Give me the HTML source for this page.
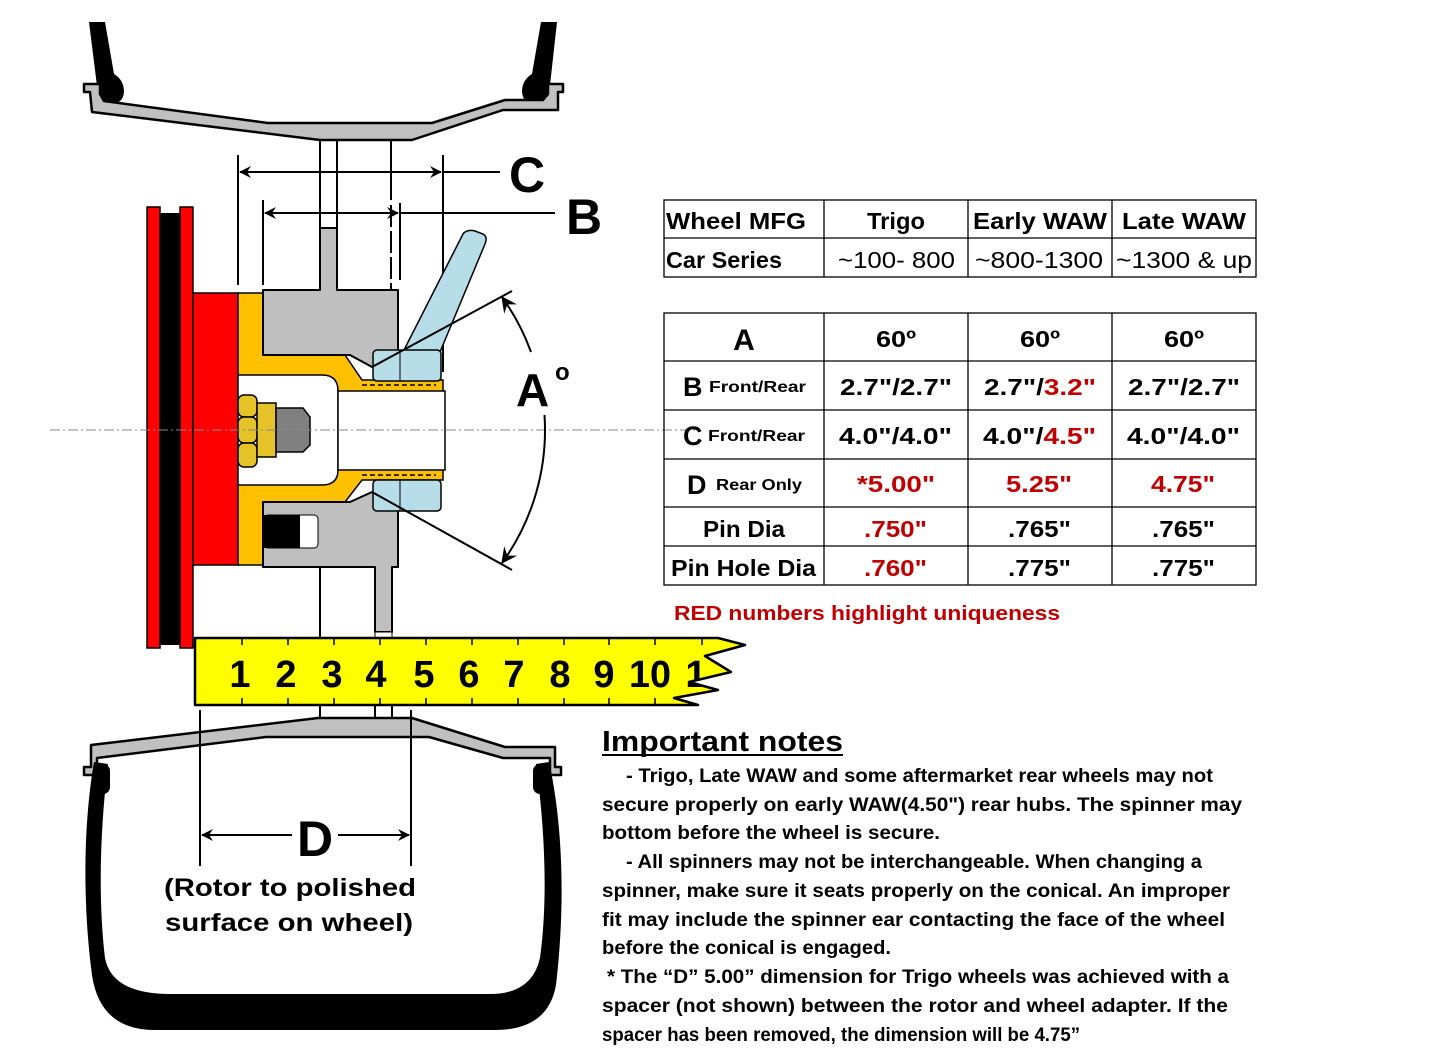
<!DOCTYPE html>
<html><head><meta charset="utf-8"><style>
html,body{margin:0;padding:0;background:#fff;width:1440px;height:1056px;overflow:hidden}
svg{display:block}
.t{font-family:"Liberation Sans",Arial,sans-serif;font-weight:bold}
</style></head><body>
<svg width="1440" height="1056" viewBox="0 0 1440 1056" xmlns="http://www.w3.org/2000/svg">
<defs>
<marker id="ar" viewBox="0 0 12 12" refX="11" refY="6" markerWidth="12" markerHeight="12" markerUnits="userSpaceOnUse" orient="auto-start-reverse">
<path d="M0,0 L12,6 L0,12 L4,6 z" fill="#000"/></marker>
<marker id="ar2" viewBox="0 0 14 14" refX="13" refY="7" markerWidth="16" markerHeight="16" markerUnits="userSpaceOnUse" orient="auto-start-reverse">
<path d="M0,0 L14,7 L0,14 L5,7 z" fill="#000"/></marker>
<clipPath id="rc"><polygon points="195,638 718,638 745,645 705,656 731,672 689,682 718,690 674,698 698,705 195,705"/></clipPath>
</defs>

<!-- top tire -->
<path d="M89,22 L105,22 L114,74 Q124,80 124,92 Q123,104 110,104 Q100,104 98,94 Z" fill="#000"/>
<path d="M541,22 L557,22 L549,94 Q546,104 536,104 Q523,104 522,92 Q522,80 532,74 Z" fill="#000"/>
<!-- top rim -->
<polygon points="84,84 100,84 100,94 104,101 268,123 432,123 505,100 543,100 548,94 548,84 563,84 563,92 558,92 558,110 503,110 412,140 320,140 92,112 90,92 84,92" fill="#c0c0c0" stroke="#000" stroke-width="2.5" stroke-linejoin="round"/>

<g stroke="#000" stroke-width="2">
<line x1="320" y1="140" x2="320" y2="228"/><line x1="337" y1="140" x2="337" y2="228"/>
<line x1="391" y1="140" x2="391" y2="200"/>
<line x1="391" y1="205" x2="391" y2="292" stroke-dasharray="22,4"/>
<line x1="238" y1="155" x2="238" y2="285"/><line x1="443" y1="155" x2="443" y2="372"/>
<line x1="263" y1="200" x2="263" y2="285"/><line x1="400" y1="203" x2="400" y2="280"/>
<line x1="240" y1="172" x2="441" y2="172" marker-start="url(#ar)" marker-end="url(#ar)"/>
<line x1="443" y1="172" x2="500" y2="172"/>
<line x1="265" y1="213" x2="398" y2="213" marker-start="url(#ar)" marker-end="url(#ar)"/>
<line x1="400" y1="213" x2="555" y2="213"/>
</g>
<text class="t" x="509" y="192" font-size="50">C</text>
<text class="t" x="566" y="234" font-size="50">B</text>

<rect x="147" y="207" width="13" height="441" fill="#f00" stroke="#000" stroke-width="1.5"/>
<rect x="160" y="213" width="20" height="432" fill="#000"/>
<rect x="180" y="207" width="13" height="441" fill="#f00" stroke="#000" stroke-width="1.5"/>
<rect x="193" y="293" width="45" height="272" fill="#f00" stroke="#000" stroke-width="1.5"/>

<polygon points="238,293 263,293 263,355 345,355 362,380 443,380 443,480 362,480 345,502 263,502 263,565 238,565" fill="#ffc000" stroke="#000" stroke-width="1.5"/>
<path d="M238,375 L322,375 Q338,375 338,391 L338,470 Q338,485 322,485 L238,485 z" fill="#fff" stroke="#000" stroke-width="1.5"/>
<rect x="338" y="391" width="107" height="79" fill="#fff" stroke="#000" stroke-width="1.5"/>
<g stroke="#000" stroke-width="1.5" stroke-dasharray="5,3"><line x1="362" y1="385" x2="436" y2="385"/><line x1="362" y1="475" x2="436" y2="475"/></g>

<polygon points="263,290 320,290 320,228 337,228 337,290 398,290 398,355 372,367 350,355 263,355" fill="#bfbfbf" stroke="#000" stroke-width="2" stroke-linejoin="round"/>
<polygon points="263,502 350,502 372,492 398,508 398,567 392,567 392,632 375,632 375,567 263,567" fill="#bfbfbf" stroke="#000" stroke-width="2" stroke-linejoin="round"/>
<rect x="375" y="632" width="17" height="6" fill="#fff" stroke="#000" stroke-width="1"/>
<rect x="264" y="515" width="54" height="33" rx="4" fill="#fff" stroke="#000" stroke-width="1"/>
<rect x="264" y="515" width="36" height="33" fill="#000"/>

<path d="M403,352 L463,234 Q467,229 475,231 L483,234 Q488,237 485,244 L440,352 z" fill="#b7dde8" stroke="#000" stroke-width="1.5"/>
<rect x="373" y="350" width="68" height="31" rx="4" fill="#b7dde8" stroke="#000" stroke-width="1.5"/>
<rect x="373" y="480" width="68" height="31" rx="4" fill="#b7dde8" stroke="#000" stroke-width="1.5"/>
<line x1="400" y1="350" x2="400" y2="381" stroke="#000" stroke-width="1"/>
<line x1="400" y1="480" x2="400" y2="511" stroke="#000" stroke-width="1"/>

<g stroke="#000" stroke-width="1.5">
<rect x="238" y="395" width="19" height="22" rx="6" fill="#e6c229"/>
<rect x="238" y="417" width="19" height="26" rx="6" fill="#e6c229"/>
<rect x="238" y="443" width="19" height="24" rx="6" fill="#e6c229"/>
<rect x="257" y="403" width="19" height="54" fill="#e6c229"/>
<polygon points="276,408 303,408 310,417 310,445 303,452 276,452" fill="#808080"/>
</g>

<line x1="50" y1="430" x2="700" y2="430" stroke="#888" stroke-width="1" stroke-dasharray="10,3,2,3"/>

<g stroke="#000" stroke-width="2" fill="none">
<line x1="372" y1="367" x2="512" y2="291"/>
<line x1="372" y1="492" x2="512" y2="570"/>
<path d="M502,297 A227,227 0 0 1 531,352" marker-start="url(#ar2)"/>
<path d="M544.5,415 A227,227 0 0 1 502,563" marker-end="url(#ar2)"/>
</g>
<text class="t" x="516" y="406" font-size="46">A</text>
<text class="t" x="555" y="380" font-size="24">o</text>

<g stroke="#000" stroke-width="2">
<line x1="320" y1="567" x2="320" y2="638"/>
<line x1="320" y1="705" x2="320" y2="718"/><line x1="375" y1="705" x2="375" y2="718"/><line x1="392" y1="705" x2="392" y2="718"/>
</g>

<polygon points="195,638 718,638 745,645 705,656 731,672 689,682 718,690 674,698 698,705 195,705" fill="#ffff00" stroke="#000" stroke-width="2.5" stroke-linejoin="round"/>
<g stroke="#000" stroke-width="1.5">
<path d="M242,638v7M288,638v7M334,638v7M380,638v7M426,638v7M472,638v7M518,638v7M564,638v7M609,638v7M655,638v7M702,638v7"/>
<path d="M242,705v-7M288,705v-7M334,705v-7M380,705v-7M426,705v-7M472,705v-7M518,705v-7M564,705v-7M609,705v-7M655,705v-7"/>
</g>
<g class="t" font-size="38" text-anchor="middle">
<text x="240" y="687">1</text><text x="286" y="687">2</text><text x="332" y="687">3</text><text x="376" y="687">4</text><text x="424" y="687">5</text><text x="469" y="687">6</text><text x="514" y="687">7</text><text x="560" y="687">8</text><text x="604" y="687">9</text><text x="650" y="687" textLength="42" lengthAdjust="spacingAndGlyphs">10</text>
<text x="696" y="687" clip-path="url(#rc)">1</text>
</g>

<polygon points="84,767 91,767 91,745 318,718 412,718 505,747 555,747 555,767 561,767 561,775 550,775 550,758 503,758 429,737 266,737 97,758 97,775 84,775" fill="#c0c0c0" stroke="#000" stroke-width="2.5" stroke-linejoin="round"/>
<path d="M94,762 C84,820 82,900 92,975 Q100,1030 155,1030 L495,1030 Q548,1030 556,985 C566,900 562,820 549,762 L536,764 C545,830 548,900 540,958 Q532,994 490,994 L170,994 Q112,994 105,958 C98,900 100,830 108,764 z" fill="#000"/>
<rect x="96" y="764" width="14" height="30" rx="7" fill="#000"/>
<rect x="533" y="764" width="14" height="30" rx="7" fill="#000"/>

<g stroke="#000" stroke-width="2">
<line x1="200" y1="710" x2="200" y2="866"/><line x1="411" y1="710" x2="411" y2="866"/>
<line x1="202" y1="835" x2="292" y2="835" marker-start="url(#ar)"/>
<line x1="338" y1="835" x2="409" y2="835" marker-end="url(#ar)"/>
</g>
<text class="t" x="315" y="856" font-size="50" text-anchor="middle">D</text>
<text class="t" x="290" y="896" font-size="25" text-anchor="middle" textLength="252" lengthAdjust="spacingAndGlyphs">(Rotor to polished</text>
<text class="t" x="289" y="931" font-size="25" text-anchor="middle" textLength="248" lengthAdjust="spacingAndGlyphs">surface on wheel)</text>

<g stroke="#000" stroke-width="1.3" fill="none">
<rect x="664" y="200" width="592" height="77"/>
<line x1="664" y1="238" x2="1256" y2="238"/>
<line x1="824" y1="200" x2="824" y2="277"/><line x1="968" y1="200" x2="968" y2="277"/><line x1="1112" y1="200" x2="1112" y2="277"/>
<rect x="664" y="313" width="592" height="272"/>
<line x1="664" y1="361" x2="1256" y2="361"/><line x1="664" y1="410" x2="1256" y2="410"/><line x1="664" y1="459" x2="1256" y2="459"/><line x1="664" y1="507" x2="1256" y2="507"/><line x1="664" y1="546" x2="1256" y2="546"/>
<line x1="824" y1="313" x2="824" y2="585"/><line x1="968" y1="313" x2="968" y2="585"/><line x1="1112" y1="313" x2="1112" y2="585"/>
</g>
<g class="t" font-size="23">
<text x="666" y="229" textLength="140" lengthAdjust="spacingAndGlyphs">Wheel MFG</text>
<text x="867" y="229" textLength="58" lengthAdjust="spacingAndGlyphs">Trigo</text>
<text x="973" y="229" textLength="134" lengthAdjust="spacingAndGlyphs">Early WAW</text>
<text x="1122" y="229" textLength="124" lengthAdjust="spacingAndGlyphs">Late WAW</text>
<text x="666" y="268" textLength="116" lengthAdjust="spacingAndGlyphs">Car Series</text>
<text x="838" y="268" font-weight="normal" textLength="117" lengthAdjust="spacingAndGlyphs">~100- 800</text>
<text x="975" y="268" font-weight="normal" textLength="128" lengthAdjust="spacingAndGlyphs">~800-1300</text>
<text x="1116" y="268" font-weight="normal" textLength="136" lengthAdjust="spacingAndGlyphs">~1300 &amp; up</text>

<text x="744" y="350" font-size="30" text-anchor="middle">A</text>
<text x="876" y="347" textLength="40" lengthAdjust="spacingAndGlyphs">60º</text>
<text x="1020" y="347" textLength="40" lengthAdjust="spacingAndGlyphs">60º</text>
<text x="1164" y="347" textLength="40" lengthAdjust="spacingAndGlyphs">60º</text>

<text x="683" y="396" font-size="27">B</text>
<text x="709" y="392" font-size="16" textLength="97" lengthAdjust="spacingAndGlyphs">Front/Rear</text>
<text x="840" y="395" textLength="112" lengthAdjust="spacingAndGlyphs">2.7"/2.7"</text>
<text x="984" y="395" textLength="112" lengthAdjust="spacingAndGlyphs">2.7"/<tspan fill="#c00000">3.2"</tspan></text>
<text x="1128" y="395" textLength="112" lengthAdjust="spacingAndGlyphs">2.7"/2.7"</text>

<text x="683" y="445" font-size="27">C</text>
<text x="708" y="441" font-size="16" textLength="97" lengthAdjust="spacingAndGlyphs">Front/Rear</text>
<text x="839" y="444" textLength="113" lengthAdjust="spacingAndGlyphs">4.0"/4.0"</text>
<text x="983" y="444" textLength="113" lengthAdjust="spacingAndGlyphs">4.0"/<tspan fill="#c00000">4.5"</tspan></text>
<text x="1127" y="444" textLength="113" lengthAdjust="spacingAndGlyphs">4.0"/4.0"</text>

<text x="687" y="494" font-size="27">D</text>
<text x="716" y="490" font-size="16" textLength="86" lengthAdjust="spacingAndGlyphs">Rear Only</text>
<text x="857" y="492" fill="#c00000" textLength="78" lengthAdjust="spacingAndGlyphs">*5.00"</text>
<text x="1006" y="492" fill="#c00000" textLength="66" lengthAdjust="spacingAndGlyphs">5.25"</text>
<text x="1151" y="492" fill="#c00000" textLength="64" lengthAdjust="spacingAndGlyphs">4.75"</text>

<text x="703" y="537" textLength="82" lengthAdjust="spacingAndGlyphs">Pin Dia</text>
<text x="864" y="537" fill="#c00000" textLength="63" lengthAdjust="spacingAndGlyphs">.750"</text>
<text x="1008" y="537" textLength="63" lengthAdjust="spacingAndGlyphs">.765"</text>
<text x="1152" y="537" textLength="63" lengthAdjust="spacingAndGlyphs">.765"</text>

<text x="671" y="576" textLength="145" lengthAdjust="spacingAndGlyphs">Pin Hole Dia</text>
<text x="864" y="576" fill="#c00000" textLength="63" lengthAdjust="spacingAndGlyphs">.760"</text>
<text x="1008" y="576" textLength="63" lengthAdjust="spacingAndGlyphs">.775"</text>
<text x="1152" y="576" textLength="63" lengthAdjust="spacingAndGlyphs">.775"</text>
</g>
<text class="t" x="674" y="620" font-size="20" fill="#c00000" textLength="386" lengthAdjust="spacingAndGlyphs">RED numbers highlight uniqueness</text>

<text class="t" x="602" y="751" font-size="29" textLength="241" lengthAdjust="spacingAndGlyphs">Important notes</text>
<line x1="602" y1="755" x2="843" y2="755" stroke="#000" stroke-width="2"/>
<g class="t" font-size="19">
<text x="626" y="782" textLength="587" lengthAdjust="spacingAndGlyphs">- Trigo, Late WAW and some aftermarket rear wheels may not</text>
<text x="602" y="811" textLength="640" lengthAdjust="spacingAndGlyphs">secure properly on early WAW(4.50")  rear hubs.  The spinner may</text>
<text x="602" y="839" textLength="338" lengthAdjust="spacingAndGlyphs">bottom before the wheel is secure.</text>
<text x="626" y="868" textLength="576" lengthAdjust="spacingAndGlyphs">- All spinners may not be interchangeable.  When changing a</text>
<text x="602" y="897" textLength="628" lengthAdjust="spacingAndGlyphs">spinner, make sure it seats properly on the conical.  An improper</text>
<text x="602" y="926" textLength="623" lengthAdjust="spacingAndGlyphs">fit may include the spinner ear contacting the face of  the wheel</text>
<text x="602" y="954" textLength="289" lengthAdjust="spacingAndGlyphs">before the conical is engaged.</text>
<text x="607" y="983" textLength="622" lengthAdjust="spacingAndGlyphs">* The “D” 5.00” dimension for Trigo wheels was achieved with a</text>
<text x="602" y="1012" textLength="626" lengthAdjust="spacingAndGlyphs">spacer (not shown) between the rotor and wheel adapter.  If the</text>
<text x="602" y="1041" textLength="478" lengthAdjust="spacingAndGlyphs">spacer has been removed, the dimension will be 4.75”</text>
</g>
</svg>
</body></html>
